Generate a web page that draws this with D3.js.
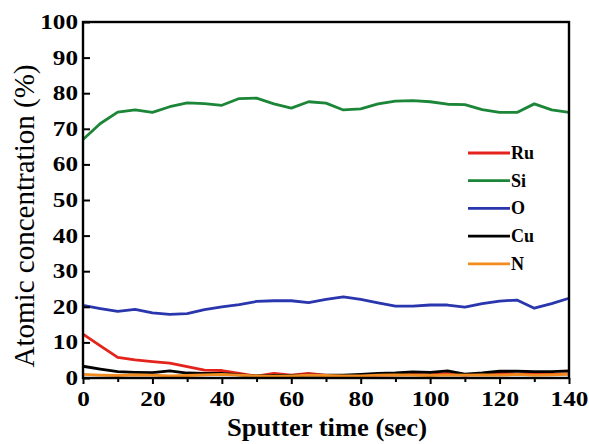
<!DOCTYPE html>
<html>
<head>
<meta charset="utf-8">
<script src="https://cdn.jsdelivr.net/npm/d3@7"></script>
<style>
  body { margin: 0; background: #fff; }
  text { font-family: "Liberation Serif", "Times New Roman", serif; }
</style>
</head>
<body>
<div id="root"></div>
<script>
const w = 589;
const h = 444;
const margin = { top: 22, bottom: 66, left: 83, right: 20 };

// sputter time (sec), sampled every 5 s
const times = [0, 5, 10, 15, 20, 25, 30, 35, 40, 45, 50, 55, 60, 65, 70,
    75, 80, 85, 90, 95, 100, 105, 110, 115, 120, 125, 130, 135, 140];

// atomic concentrations (%)
const ru = [12.3, 9.0, 5.8, 5.1, 4.6, 4.2, 3.2, 2.2, 2.1, 1.3, 0.5, 1.3, 0.8, 1.3, 0.7,
    0.6, 0.7, 0.8, 0.9, 1.0, 0.9, 1.3, 0.8, 1.2, 1.5, 1.0, 1.3, 1.0, 1.2];
const si = [67.0, 71.5, 74.7, 75.3, 74.6, 76.2, 77.3, 77.1, 76.6, 78.5, 78.6, 77.0, 75.8, 77.6, 77.2,
    75.3, 75.6, 77.0, 77.8, 77.9, 77.6, 76.9, 76.8, 75.4, 74.6, 74.6, 77.0, 75.3, 74.6];
const ox = [20.4, 19.5, 18.7, 19.3, 18.3, 17.9, 18.1, 19.2, 20.0, 20.6, 21.5, 21.7, 21.7, 21.2, 22.1,
    22.8, 22.1, 21.1, 20.2, 20.2, 20.5, 20.5, 19.9, 20.9, 21.6, 21.9, 19.6, 20.9, 22.4];
const cu = [3.3, 2.5, 1.8, 1.6, 1.5, 2.0, 1.4, 1.3, 1.3, 0.9, 0.6, 0.7, 0.7, 0.8, 0.8,
    0.8, 1.0, 1.3, 1.4, 1.7, 1.6, 2.0, 1.1, 1.4, 1.9, 1.9, 1.8, 1.8, 2.0];
const ni = [1.0, 0.8, 0.7, 0.9, 0.8, 0.6, 0.7, 0.9, 1.0, 0.8, 0.6, 0.5, 0.6, 0.8, 0.7,
    0.6, 0.6, 0.8, 0.9, 0.8, 0.7, 0.9, 0.8, 0.9, 0.8, 1.0, 0.8, 0.9, 1.1];

const names = ["Ru", "Si", "O", "Cu", "N"];
const colors = ["#e3231c", "#1b8637", "#2a36ad", "#000000", "#f28c1e"];
const seriesValues = [ru, si, ox, cu, ni];

const xScale = d3.scaleLinear()
    .domain([0, 140])
    .range([margin.left, w - margin.right]);
const yScale = d3.scaleLinear()
    .domain([0, 100])
    .range([h - margin.bottom, margin.top]);

const svg = d3.select("#root")
    .append("svg")
    .attr("width", w)
    .attr("height", h);

// data lines
const line = d3.line()
    .x((d, i) => xScale(times[i]))
    .y(d => yScale(d));

svg.append("g")
    .selectAll("path")
    .data(seriesValues)
    .enter()
    .append("path")
    .attr("d", d => line(d))
    .attr("fill", "none")
    .attr("stroke", (d, i) => colors[i])
    .attr("stroke-width", 2.8)
    .attr("stroke-linejoin", "round");

// frame
svg.append("rect")
    .attr("x", margin.left)
    .attr("y", margin.top)
    .attr("width", w - margin.left - margin.right)
    .attr("height", h - margin.top - margin.bottom)
    .attr("fill", "none")
    .attr("stroke", "#000")
    .attr("stroke-width", 2.4);

// the tick digits in the picture are wide and heavy: stretch them a bit
const stretchDigits = sel => sel
    .attr("font-size", 20)
    .attr("font-weight", "bold")
    .attr("fill", "#000")
    .attr("textLength", d => String(d).length * 12.6)
    .attr("lengthAdjust", "spacingAndGlyphs");

// x axis: minor ticks every 10, labels every 20, ticks pointing down
const xAxis = d3.axisBottom(xScale)
    .tickValues(d3.range(0, 141, 20))
    .tickSize(6)
    .tickPadding(8)
    .tickFormat(d => d);
const gx = svg.append("g")
    .attr("transform", "translate(0," + (h - margin.bottom) + ")")
    .call(xAxis);
gx.select(".domain").remove();
gx.selectAll(".tick line").attr("stroke-width", 2);
gx.selectAll(".tick text").call(stretchDigits);

const xMinor = d3.axisBottom(xScale)
    .tickValues(d3.range(10, 140, 20))
    .tickSize(4)
    .tickFormat("");
const gxm = svg.append("g")
    .attr("transform", "translate(0," + (h - margin.bottom) + ")")
    .call(xMinor);
gxm.select(".domain").remove();
gxm.selectAll(".tick line").attr("stroke-width", 2);

// y axis: ticks pointing into the plot
const yAxis = d3.axisLeft(yScale)
    .tickValues(d3.range(0, 101, 10))
    .tickSize(-7)
    .tickPadding(5)
    .tickFormat(d => d);
const gy = svg.append("g")
    .attr("transform", "translate(" + margin.left + ",0)")
    .call(yAxis);
gy.select(".domain").remove();
gy.selectAll(".tick line").attr("stroke-width", 2);
gy.selectAll(".tick text")
    .attr("x", -5)
    .call(stretchDigits);

// axis titles
svg.append("text")
    .attr("x", 327)
    .attr("y", 436)
    .attr("text-anchor", "middle")
    .attr("font-size", 26)
    .attr("font-weight", "bold")
    .attr("textLength", 200)
    .attr("lengthAdjust", "spacingAndGlyphs")
    .text("Sputter time (sec)");

svg.append("text")
    .attr("transform", "translate(34,216) rotate(-90)")
    .attr("text-anchor", "middle")
    .attr("font-size", 29)
    .attr("textLength", 303)
    .attr("lengthAdjust", "spacingAndGlyphs")
    .text("Atomic concentration (%)");

// legend
const legend = svg.append("g");
const legendItems = legend.selectAll("g")
    .data(names)
    .enter()
    .append("g")
    .attr("transform", (d, i) => "translate(468," + (153 + i * 27.7) + ")");
legendItems.append("line")
    .attr("x1", 0)
    .attr("x2", 42)
    .attr("stroke", (d, i) => colors[i])
    .attr("stroke-width", 2.8);
legendItems.append("text")
    .attr("x", 43)
    .attr("y", 6)
    .attr("font-size", 18)
    .attr("font-weight", "bold")
    .text(d => d);
</script>
</body>
</html>
